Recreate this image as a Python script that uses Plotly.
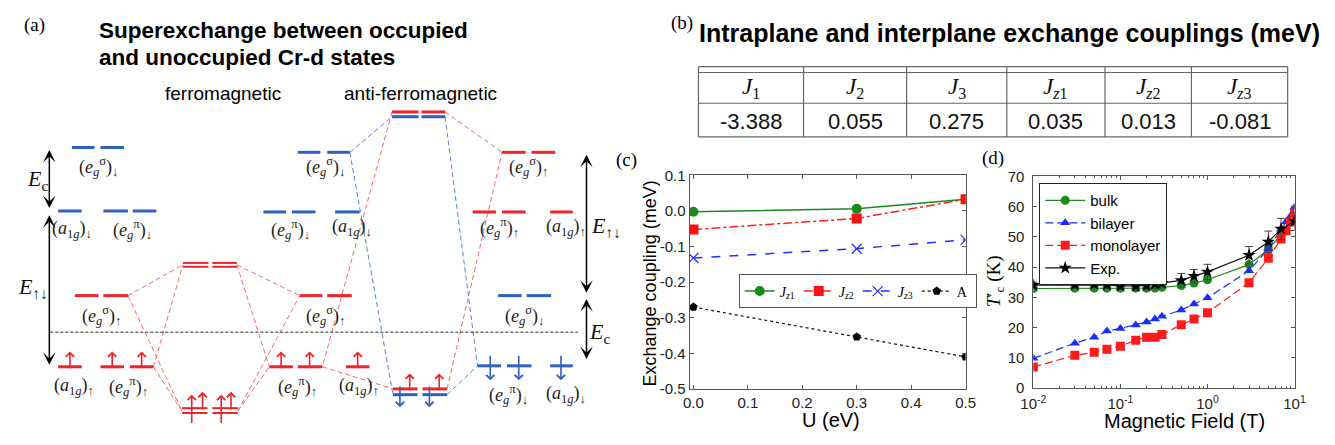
import plotly.graph_objects as go

W, H = 1335, 445

# ---------------- panel (c): exchange couplings vs U ----------------
U_eV = [0.0, 0.3, 0.5]
Jz1 = [-0.002, 0.006, 0.033]
Jz2 = [-0.052, -0.021, 0.033]
Jz3 = [-0.132, -0.106, -0.081]
A_coef = [-0.270, -0.354, -0.410]
c_yticks = [0.1, 0.0, -0.1, -0.2, -0.3, -0.4, -0.5]
c_yticklabels = ["0.1", "0.0", "-0.1", "-0.2", "-0.3", "-0.4", "-0.5"]
c_xticks = [0.0, 0.1, 0.2, 0.3, 0.4, 0.5]
c_xticklabels = ["0.0", "0.1", "0.2", "0.3", "0.4", "0.5"]

# ---------------- panel (d): T'c vs magnetic field ----------------
B_bulk = [0.01, 0.03, 0.05, 0.07, 0.1, 0.15, 0.2, 0.25, 0.3, 0.5, 0.7, 1, 3, 5, 7, 10]
Tc_bulk = [32.9, 33.0, 33.0, 33.0, 33.0, 33.0, 33.0, 33.0, 33.3, 33.9, 34.7, 35.8, 40.8, 45.8, 50.7, 56.5]
B_layer = [0.01, 0.03, 0.05, 0.07, 0.1, 0.15, 0.2, 0.25, 0.3, 0.5, 0.7, 1, 3, 5, 7, 8, 9, 10]
Tc_bilayer = [9.8, 14.8, 16.8, 18.8, 19.7, 20.8, 21.8, 22.8, 23.7, 25.8, 27.8, 29.8, 38.8, 46.0, 52.5, 55.0, 56.8, 59.8]
Tc_mono = [6.9, 10.8, 11.8, 12.8, 13.8, 15.8, 16.8, 16.8, 17.7, 20.9, 22.8, 24.9, 34.8, 42.9, 49.3, 52.0, 54.9, 57.8]
B_exp = [0.01, 0.03, 0.05, 0.07, 0.1, 0.15, 0.2, 0.25, 0.3, 0.5, 0.7, 1, 3, 5, 7, 10]
Tc_exp = [34.0, 34.1, 34.3, 34.1, 33.7, 33.7, 33.9, 34.4, 34.7, 35.6, 37.0, 38.4, 43.9, 48.3, 52.6, 55.1]
Tc_exp_err = [1.0, 1.0, 1.2, 1.2, 1.0, 1.5, 1.5, 1.5, 1.5, 2.3, 2.2, 2.5, 2.9, 3.6, 3.5, 3.0]
d_yticks = [0, 10, 20, 30, 40, 50, 60, 70]
d_xticks = [0.01, 0.1, 1, 10]
d_xticklabels = ["10<sup>-2</sup>", "10<sup>-1</sup>", "10<sup>0</sup>", "10<sup>1</sup>"]
d_minor = [m * 10 ** e for e in (-2, -1, 0) for m in range(2, 10)]

# ---------------- panel (b): table ----------------
table_headers = ["<i>J</i><sub>1</sub>", "<i>J</i><sub>2</sub>", "<i>J</i><sub>3</sub>",
                 "<i>J</i><sub><i>z</i>1</sub>", "<i>J</i><sub><i>z</i>2</sub>", "<i>J</i><sub><i>z</i>3</sub>"]
table_values = ["-3.388", "0.055", "0.275", "0.035", "0.013", "-0.081"]
table_colwidths = [107, 105, 102, 100, 88, 98]

# ---------------- panel (a): schematic level diagram (diagram units) ----------------
blue_levels = [(60, 83, 144), (89, 113, 144), (46, 70, 210), (92, 117, 210), (122, 146, 210),
               (290, 313, 149), (320, 343, 149), (255, 278, 211), (284, 308, 211), (328, 353, 211),
               (386, 413, 112), (416, 440, 112), (387, 412, 401), (417, 442, 401),
               (494, 518, 298), (523, 548, 298), (473, 497, 371), (503, 528, 371), (547, 570, 371)]
red_levels = [(63, 87, 298), (92, 117, 298), (46, 70, 372), (89, 113, 372), (119, 143, 372),
              (292, 315, 298), (320, 345, 298), (261, 285, 372), (290, 315, 372), (339, 363, 372),
              (386, 413, 107), (416, 440, 107), (387, 412, 395), (417, 442, 395),
              (498, 522, 149), (528, 552, 149), (468, 492, 211), (498, 522, 211), (547, 570, 211)]
red_double_levels = [(173, 199, 264), (173, 199, 268), (203, 228, 264), (203, 228, 268),
                     (172, 198, 415), (172, 198, 420), (203, 229, 415), (203, 229, 420)]
red_links = [((117, 298), (173, 266)), ((117, 298), (172, 418)), ((143, 372), (173, 266)),
             ((143, 372), (172, 418)), ((228, 266), (292, 298)), ((229, 418), (292, 298)),
             ((228, 266), (261, 372)), ((229, 418), (261, 372)),
             ((386, 107), (315, 372)), ((315, 372), (387, 395)),
             ((440, 107), (498, 149)), ((442, 395), (498, 149))]
blue_links = [((343, 149), (386, 112)), ((343, 149), (387, 401)),
              ((440, 112), (473, 371)), ((442, 401), (473, 371))]
fermi_line = [(38, 336), (575, 336)]
# spin arrows: (x, tail y, head y)
red_spin = [(58, 375, 356), (101, 375, 356), (131, 375, 356),
            (182, 432, 401), (193, 418, 398), (212, 432, 401), (222, 418, 398),
            (273, 375, 356), (302, 375, 356), (351, 375, 356),
            (404, 398, 379), (434, 398, 379)]
blue_spin = [(394, 391, 414), (424, 391, 414),
             (486, 359, 386), (515, 359, 386), (558, 359, 386)]
# energy gap double arrows: (x, y top, y bottom)
gap_arrows = [(37, 145, 207), (37, 213, 370), (584, 150, 295), (584, 300, 364)]

EsU = "(<i>e</i><sub><i>g</i></sub><sup>σ</sup>)<sub>↑</sub>"
EsD = "(<i>e</i><sub><i>g</i></sub><sup>σ</sup>)<sub>↓</sub>"
EpU = "(<i>e</i><sub><i>g</i></sub><sup>π</sup>)<sub>↑</sub>"
EpD = "(<i>e</i><sub><i>g</i></sub><sup>π</sup>)<sub>↓</sub>"
AU = "(<i>a</i><sub>1<i>g</i></sub>)<sub>↑</sub>"
AD = "(<i>a</i><sub>1<i>g</i></sub>)<sub>↓</sub>"
orbital_labels = [(EsD, 87, 164), (AD, 60, 229), (EpD, 122, 229), (EsU, 90, 319),
                  (AU, 62, 393), (EpU, 118, 393),
                  (EsD, 318, 164), (EpD, 283, 229), (AD, 345, 227), (EsU, 318, 319),
                  (EpU, 290, 393), (AU, 352, 393),
                  (EsU, 525, 164), (EpU, 495, 227), (AU, 563, 227), (EsD, 521, 319),
                  (EpD, 505, 401), (AD, 563, 401)]
gap_labels = [("<i>E</i><sub>c</sub>", 25, 178), ("<i>E</i><sub>↑↓</sub>", 20, 290),
              ("<i>E</i><sub>↑↓</sub>", 604, 227), ("<i>E</i><sub>c</sub>", 597, 337)]

RED = "#f0222a"
BLUE = "#2e62bd"
RED_LINK = "#f46a6a"
BLUE_LINK = "#5b84cf"
SERIF = "Liberation Serif"
SANS = "Liberation Sans"

fig = go.Figure()


def seg_xy(levels):
    xs, ys = [], []
    for x0, x1, y in levels:
        xs += [x0, x1, None]
        ys += [y, y, None]
    return xs, ys


def link_xy(links):
    xs, ys = [], []
    for (x0, y0), (x1, y1) in links:
        xs += [x0, x1, None]
        ys += [y0, y1, None]
    return xs, ys


diag = dict(xaxis="x3", yaxis="y3", mode="lines", showlegend=False, hoverinfo="skip")
lx, ly = link_xy(red_links)
fig.add_trace(go.Scatter(x=lx, y=ly, line=dict(color=RED_LINK, width=1, dash="5px,3px"), **diag))
lx, ly = link_xy(blue_links)
fig.add_trace(go.Scatter(x=lx, y=ly, line=dict(color=BLUE_LINK, width=1, dash="5px,3px"), **diag))
fig.add_trace(go.Scatter(x=[p[0] for p in fermi_line], y=[p[1] for p in fermi_line],
                         line=dict(color="#222", width=1, dash="3px,2px"), **diag))
sx, sy = seg_xy(blue_levels)
fig.add_trace(go.Scatter(x=sx, y=sy, line=dict(color=BLUE, width=3), **diag))
sx, sy = seg_xy(red_levels)
fig.add_trace(go.Scatter(x=sx, y=sy, line=dict(color=RED, width=3), **diag))
sx, sy = seg_xy(red_double_levels)
fig.add_trace(go.Scatter(x=sx, y=sy, line=dict(color=RED, width=2), **diag))

annotations = []
for x, yt, yh in red_spin:
    annotations.append(dict(x=x, y=yh, ax=x, ay=yt, xref="x3", yref="y3", axref="x3", ayref="y3",
                            text="", showarrow=True, arrowhead=4, arrowsize=1.0, arrowwidth=1.6,
                            arrowcolor=RED))
for x, yt, yh in blue_spin:
    annotations.append(dict(x=x, y=yh, ax=x, ay=yt, xref="x3", yref="y3", axref="x3", ayref="y3",
                            text="", showarrow=True, arrowhead=4, arrowsize=1.0, arrowwidth=1.6,
                            arrowcolor=BLUE))
for x, y0, y1 in gap_arrows:
    annotations.append(dict(x=x, y=y1, ax=x, ay=y0, xref="x3", yref="y3", axref="x3", ayref="y3",
                            text="", showarrow=True, arrowhead=3, startarrowhead=3,
                            arrowside="end+start", arrowsize=1.4, startarrowsize=1.4,
                            arrowwidth=1.5, arrowcolor="#000"))
for t, x, y in orbital_labels:
    annotations.append(dict(x=x, y=y, xref="x3", yref="y3", text=t, showarrow=False,
                            font=dict(family=SERIF, size=18, color="#222")))
for t, x, y in gap_labels:
    annotations.append(dict(x=x, y=y, xref="x3", yref="y3", text=t, showarrow=False,
                            font=dict(family=SERIF, size=22, color="#111")))

# ---------------- (b) table drawn on the overlay axis ----------------
TBL_X0, TBL_TOP, TBL_TOP2, TBL_MID, TBL_BOT = 698, 60, 66, 98, 133
col_edges = [TBL_X0]
for wcol in table_colwidths:
    col_edges.append(col_edges[-1] + wcol)
tx, ty = [], []
for yy in (TBL_TOP, TBL_TOP2, TBL_MID, TBL_BOT):
    tx += [col_edges[0], col_edges[-1], None]
    ty += [yy, yy, None]
for xx in col_edges:
    tx += [xx, xx, None]
    ty += [TBL_TOP, TBL_BOT, None]
fig.add_trace(go.Scatter(x=tx, y=ty, line=dict(color="#666", width=1.2), **diag))
for i, (hdr, val) in enumerate(zip(table_headers, table_values)):
    xc = (col_edges[i] + col_edges[i + 1]) / 2
    annotations.append(dict(x=xc, y=(TBL_TOP2 + TBL_MID) / 2, xref="x3", yref="y3", text=hdr,
                            showarrow=False, font=dict(family=SERIF, size=23, color="#111")))
    annotations.append(dict(x=xc, y=(TBL_MID + TBL_BOT) / 2 + 1, xref="x3", yref="y3", text=val,
                            showarrow=False, font=dict(family=SANS, size=22, color="#111")))


# panel titles & text
def ptxt(t, x, y, size, family=SANS, xanchor="center", angle=0):
    return dict(x=x / W, y=1 - y / H, xref="paper", yref="paper", text=t, showarrow=False,
                xanchor=xanchor, yanchor="middle", textangle=angle,
                font=dict(family=family, size=size, color="#000"))


annotations += [
    ptxt("(a)", 22, 17, 19, SERIF),
    ptxt("<b>Superexchange between occupied</b>", 86, 22, 22.5, xanchor="left"),
    ptxt("<b>and unoccupied Cr-d states</b>", 86, 50, 22.5, xanchor="left"),
    ptxt("ferromagnetic", 214, 88, 19),
    ptxt("anti-ferromagnetic", 415, 88, 19),
    ptxt("(b)", 681, 15, 19, SERIF),
    ptxt("<b>Intraplane and interplane exchange couplings (meV)</b>", 697, 25, 25, xanchor="left"),
    ptxt("(c)", 625, 157, 19, SERIF),
    ptxt("(d)", 998, 155, 19, SERIF),
    ptxt("Exchange coupling (meV)", 649, 285, 18, angle=-90),
    ptxt("U (eV)", 833, 427, 20),
    ptxt("Magnetic Field (T)", 1193, 428, 20),
    ptxt("<i>T</i>′<sub>c</sub> (K)", 1000, 283, 19, SERIF, angle=-90),
]

# ---------------- (c) traces ----------------
ctr = dict(xaxis="x", yaxis="y", legend="legend", mode="lines+markers")
fig.add_trace(go.Scatter(x=U_eV, y=Jz1, name="<i>J</i><sub><i>z</i>1</sub>",
                         line=dict(color="#1a8a1a", width=1.5),
                         marker=dict(symbol="circle", size=10, color="#1a8a1a"), **ctr))
fig.add_trace(go.Scatter(x=U_eV, y=Jz2, name="<i>J</i><sub><i>z</i>2</sub>",
                         line=dict(color="#ff2020", width=1.5, dash="dashdot"),
                         marker=dict(symbol="square", size=10, color="#ff1010"), **ctr))
fig.add_trace(go.Scatter(x=U_eV, y=Jz3, name="<i>J</i><sub><i>z</i>3</sub>",
                         line=dict(color="#2030ff", width=1.5, dash="dash"),
                         marker=dict(symbol="x-thin", size=10, color="#2030ff",
                                     line=dict(color="#2030ff", width=1.2)), **ctr))
fig.add_trace(go.Scatter(x=U_eV, y=A_coef, name="A",
                         line=dict(color="#111", width=1.2, dash="dot"),
                         marker=dict(symbol="pentagon", size=9, color="#000"), **ctr))

# ---------------- (d) traces ----------------
dtr = dict(xaxis="x2", yaxis="y2", legend="legend2", mode="lines+markers")
fig.add_trace(go.Scatter(x=B_bulk, y=Tc_bulk, name="bulk",
                         line=dict(color="#1a8a1a", width=1.2),
                         marker=dict(symbol="circle", size=9, color="#1a8a1a"), **dtr))
fig.add_trace(go.Scatter(x=B_layer, y=Tc_bilayer, name="bilayer",
                         line=dict(color="#1a2cff", width=1.2, dash="8px,4px"),
                         marker=dict(symbol="triangle-up", size=9, color="#1a2cff"), **dtr))
fig.add_trace(go.Scatter(x=B_layer, y=Tc_mono, name="monolayer",
                         line=dict(color="#ff1a1a", width=1.2, dash="8px,4px"),
                         marker=dict(symbol="square", size=9, color="#ff1a1a"), **dtr))
fig.add_trace(go.Scatter(x=B_exp, y=Tc_exp, name="Exp.",
                         line=dict(color="#111", width=1.2),
                         marker=dict(symbol="star", size=10, color="#000"),
                         error_y=dict(type="data", array=Tc_exp_err, color="#444", thickness=1, width=4),
                         **dtr))

axis_common = dict(showline=True, linecolor="#555", linewidth=1, mirror="ticks", ticks="inside",
                   ticklen=4, tickcolor="#555", showgrid=False, zeroline=False,
                   tickfont=dict(family=SANS, size=15, color="#222"))

fig.update_layout(
    width=W, height=H, margin=dict(l=0, r=0, t=0, b=0),
    paper_bgcolor="white", plot_bgcolor="rgba(0,0,0,0)",
    xaxis=dict(domain=[689 / W, 970 / W], range=[-0.007, 0.5], tickvals=c_xticks,
               ticktext=c_xticklabels, anchor="y", **axis_common),
    yaxis=dict(domain=[1 - 395 / H, 1 - 173 / H], range=[-0.5, 0.1], tickvals=c_yticks,
               ticktext=c_yticklabels, anchor="x", **axis_common),
    xaxis2=dict(domain=[1039 / W, 1305 / W], type="log", range=[-2, 1], tickvals=d_xticks,
                ticktext=d_xticklabels, anchor="y2", ticklabelstandoff=2,
                minor=dict(tickvals=d_minor, ticks="inside", ticklen=2, tickcolor="#555"),
                **axis_common),
    yaxis2=dict(domain=[1 - 394 / H, 1 - 174 / H], range=[0, 70], tickvals=d_yticks, anchor="x2",
                ticklabelstandoff=5, **axis_common),
    xaxis3=dict(domain=[0, 1], range=[0, W], visible=False, fixedrange=True),
    yaxis3=dict(domain=[0, 1], range=[H, 0], visible=False, fixedrange=True, anchor="x3"),
    legend=dict(x=739 / W, y=1 - 276 / H, xanchor="left", yanchor="top", orientation="h",
                bordercolor="#555", borderwidth=1, bgcolor="white",
                font=dict(family=SERIF, size=14, color="#000"), entrywidth=14,
                itemwidth=30, tracegroupgap=0),
    legend2=dict(x=1045 / W, y=1 - 181 / H, xanchor="left", yanchor="top",
                 bordercolor="#222", borderwidth=1, bgcolor="white",
                 font=dict(family=SANS, size=15, color="#000"), tracegroupgap=0, itemwidth=40),
    annotations=annotations,
)

fig.write_html("out.html")
